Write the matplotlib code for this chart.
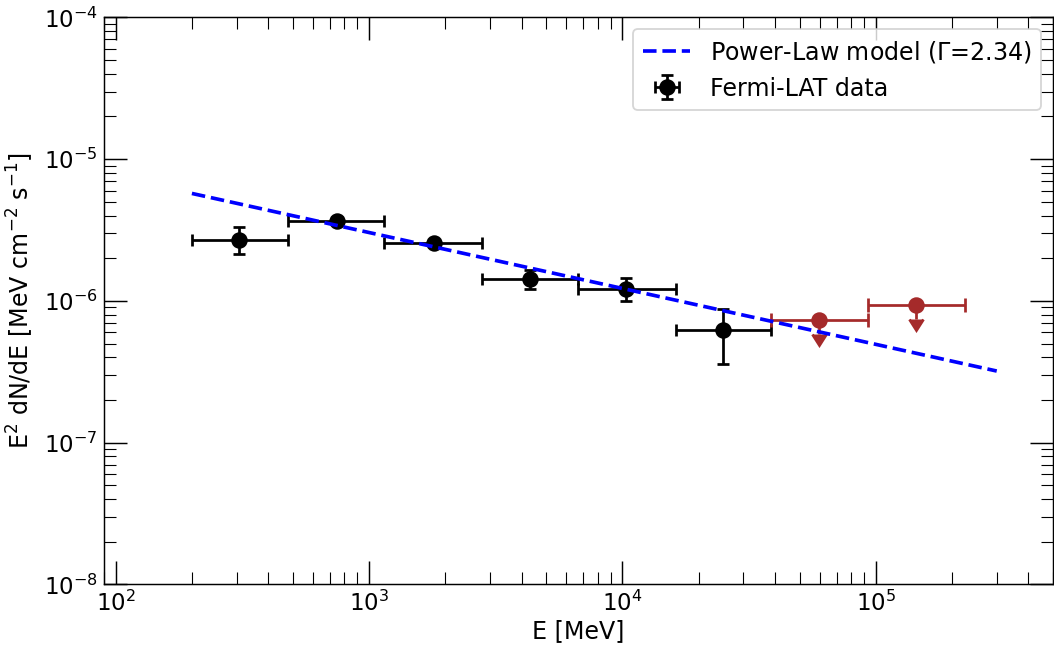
import numpy as np
import matplotlib
matplotlib.use("Agg")
import matplotlib.pyplot as plt

# Fermi-LAT SED points (MeV, MeV cm^-2 s^-1)
e_center = [308, 745, 1800, 4300, 10300, 25000]
e_lo = [200, 480, 1150, 2780, 6700, 16200]
e_hi = [480, 1150, 2780, 6700, 16200, 38600]
flux = [2.71e-6, 3.68e-6, 2.55e-6, 1.42e-6, 1.21e-6, 6.2e-7]
flux_err_lo = [0.57e-6, 0.2e-6, 0.14e-6, 0.20e-6, 0.21e-6, 2.6e-7]
flux_err_hi = [0.59e-6, 0.2e-6, 0.14e-6, 0.23e-6, 0.25e-6, 2.5e-7]

# upper limits
ul_center = [59800, 144500]
ul_lo = [38600, 93000]
ul_hi = [93000, 224000]
ul_flux = [7.3e-7, 9.35e-7]

# power-law model line
model_E = [200, 3.0e5]
model_flux = [5.73e-6, 3.2e-7]

fig, ax = plt.subplots(figsize=(8, 645 / 131.75), dpi=131.75)
fig.subplots_adjust(left=0.0987, right=0.999, top=0.973, bottom=0.094)

ax.plot(model_E, model_flux, 'b--', lw=2, label=r'Power-Law model ($\Gamma$=2.34)', zorder=3)

xerr = [np.array(e_center) - np.array(e_lo), np.array(e_hi) - np.array(e_center)]
ax.errorbar(e_center, flux, xerr=xerr, yerr=[flux_err_lo, flux_err_hi],
            fmt='o', color='black', ms=8, lw=1.5, capsize=3.5, capthick=1.5,
            label='Fermi-LAT data', zorder=2)

ul_xerr = [np.array(ul_center) - np.array(ul_lo), np.array(ul_hi) - np.array(ul_center)]
ax.errorbar(ul_center, ul_flux, xerr=ul_xerr, yerr=0.2 * np.array(ul_flux), uplims=True,
            fmt='o', color='brown', ms=8, lw=1.5, capsize=4, capthick=1.5, zorder=2)

ax.set_xscale('log')
ax.set_yscale('log')
ax.set_xlim(90, 5e5)
ax.set_ylim(1e-8, 1e-4)

ax.set_xlabel('E [MeV]', fontsize=13, labelpad=1.5)
ax.set_ylabel(r'E$^2$ dN/dE [MeV cm$^{-2}$ s$^{-1}$]', fontsize=13)
ax.tick_params(which='both', direction='in', top=True, right=True, labelsize=12.5)
ax.tick_params(which='major', length=12.5)
ax.tick_params(which='minor', length=6.5)

ax.legend(loc='upper right', fontsize=13)

plt.savefig('out.png', dpi=131.75)
